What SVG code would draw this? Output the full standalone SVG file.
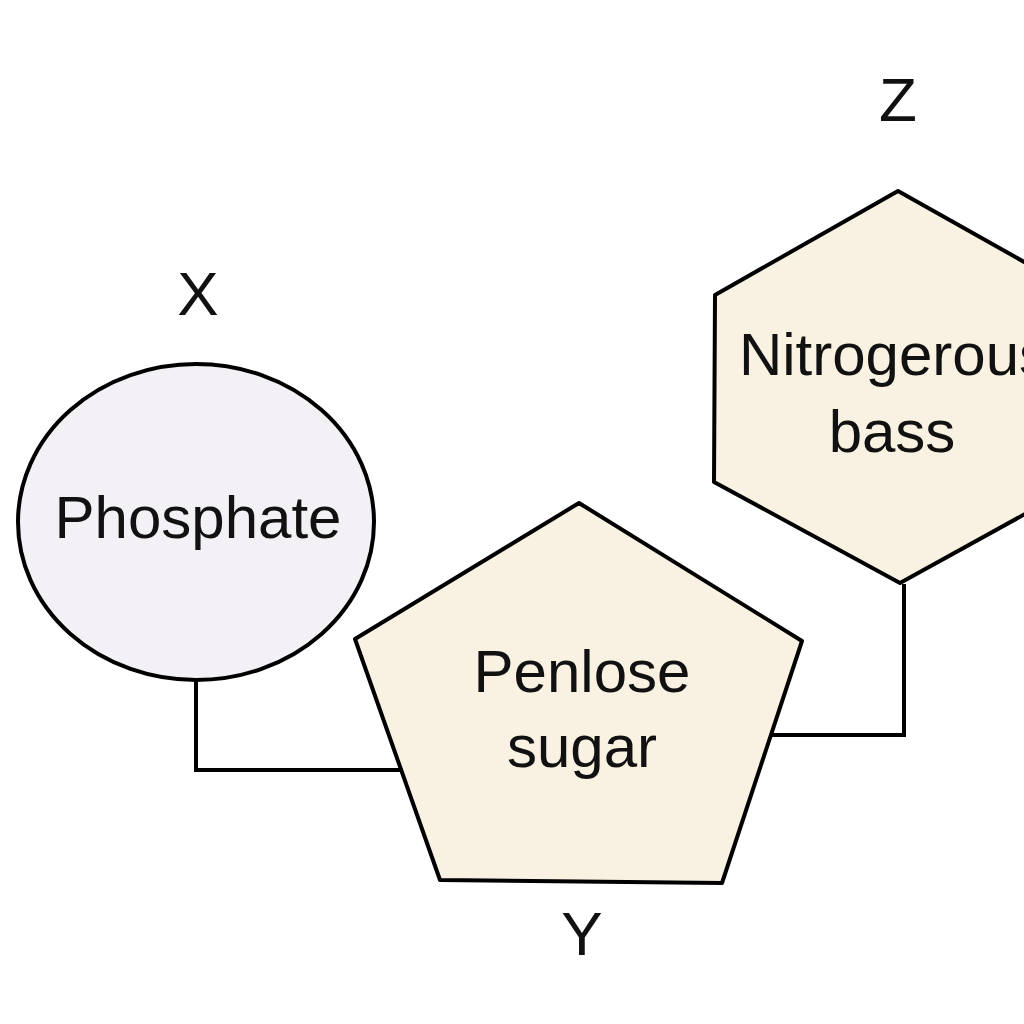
<svg xmlns="http://www.w3.org/2000/svg" width="1024" height="1024" viewBox="0 0 1024 1024">
<style>
.shape{stroke:#000;stroke-width:4;stroke-linejoin:round}
.conn{fill:none;stroke:#000;stroke-width:4}
.t{font-family:"Liberation Sans",Arial,sans-serif;font-size:60px;fill:#111;text-anchor:middle}
.lbl{font-family:"Liberation Sans",Arial,sans-serif;font-size:62px;fill:#111;text-anchor:middle}
</style>
<rect width="1024" height="1024" fill="#fff"/>
<g id="connectors">
<polyline class="conn" points="196,680 196,770 400,770"/>
<polyline class="conn" points="772,735 904,735 904,584"/>
</g>
<g id="phosphate">
<ellipse class="shape" cx="196" cy="522" rx="178" ry="158" fill="#f3f1f5"/>
<text class="t" x="198" y="538">Phosphate</text>
</g>
<g id="pentose">
<polygon class="shape" points="579,503 802,641 722,883 440,880 355,639" fill="#f9f1e1"/>
<text class="t" x="582" y="692">Penlose</text>
<text class="t" x="582" y="767">sugar</text>
</g>
<g id="base">
<polygon class="shape" points="898,191 1083,295 1083,482 900,583 714,482 715,295" fill="#f9f1e1"/>
<text class="t" x="894" y="375">Nitrogerous</text>
<text class="t" x="892" y="452">bass</text>
</g>
<g id="labels">
<text class="lbl" x="198" y="315">X</text>
<text class="lbl" x="582" y="955">Y</text>
<text class="lbl" x="898" y="121">Z</text>
</g>
</svg>
